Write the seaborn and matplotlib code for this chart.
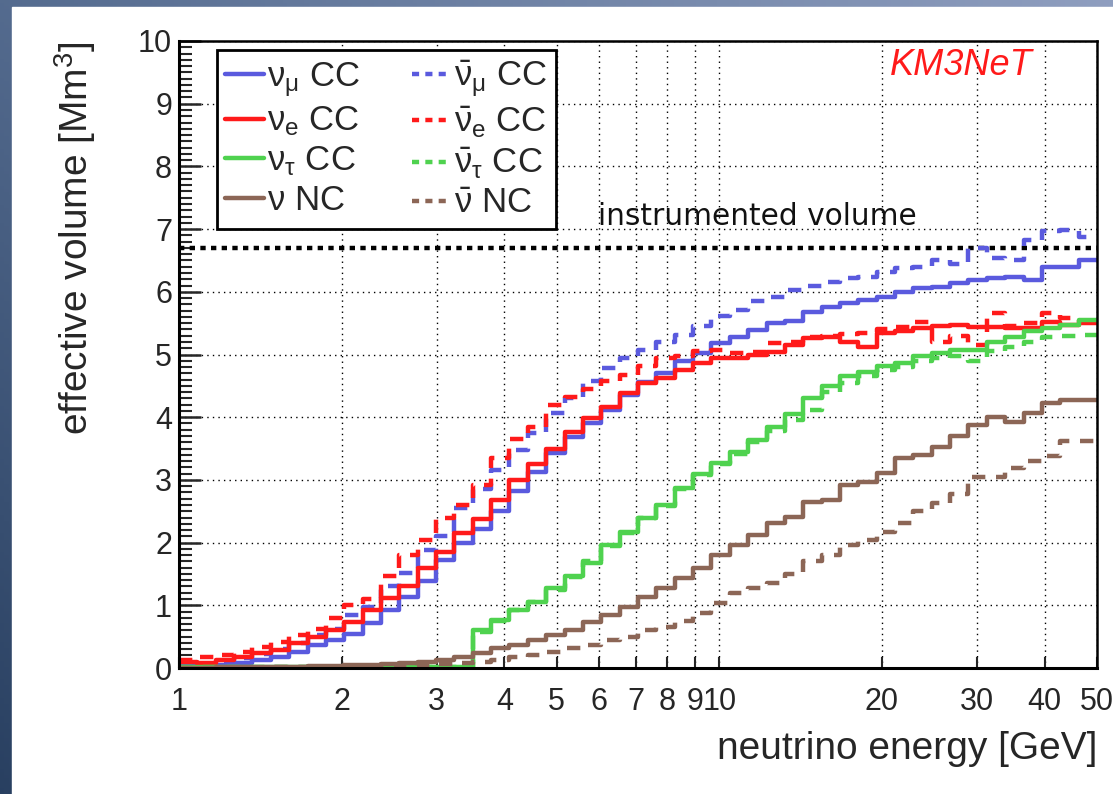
import numpy as np
import pandas as pd
import matplotlib
matplotlib.use("Agg")
import matplotlib.pyplot as plt
import seaborn as sns
from matplotlib.patches import Rectangle
from matplotlib.lines import Line2D
from matplotlib.ticker import FixedLocator, FixedFormatter, MultipleLocator, NullFormatter

# ---------------- data ----------------
E_MIN, E_MAX, N_BINS = 1.0, 50.0, 50

numu_cc = [0.03, 0.03, 0.05, 0.08, 0.12, 0.18, 0.26, 0.36, 0.44, 0.55,
           0.72, 0.92, 1.14, 1.38, 1.72, 2.00, 2.22, 2.50, 2.82, 3.12,
           3.43, 3.68, 3.90, 4.12, 4.36, 4.56, 4.70, 4.90, 5.02, 5.18,
           5.28, 5.39, 5.50, 5.54, 5.68, 5.76, 5.82, 5.87, 5.92, 6.00,
           6.06, 6.08, 6.14, 6.19, 6.22, 6.24, 6.19, 6.40, 6.40, 6.50]
anumu_cc = [0.08, 0.06, 0.10, 0.16, 0.22, 0.30, 0.40, 0.52, 0.62, 0.85,
            0.98, 1.30, 1.52, 1.88, 2.10, 2.55, 2.85, 3.16, 3.48, 3.75,
            4.07, 4.30, 4.57, 4.78, 4.94, 5.07, 5.20, 5.31, 5.45, 5.62,
            5.71, 5.85, 5.92, 6.03, 6.10, 6.16, 6.22, 6.24, 6.32, 6.38,
            6.40, 6.50, 6.45, 6.70, 6.54, 6.50, 6.83, 6.97, 6.98, 6.87]
nue_cc = [0.10, 0.08, 0.12, 0.18, 0.24, 0.29, 0.40, 0.50, 0.60, 0.74,
          0.93, 1.11, 1.30, 1.59, 1.85, 2.15, 2.37, 2.68, 3.00, 3.26,
          3.50, 3.77, 3.98, 4.17, 4.38, 4.54, 4.62, 4.75, 4.86, 4.94,
          4.94, 4.99, 5.04, 5.15, 5.26, 5.28, 5.20, 5.12, 5.34, 5.37,
          5.42, 5.45, 5.47, 5.44, 5.44, 5.42, 5.42, 5.52, 5.47, 5.50]
anue_cc = [0.13, 0.18, 0.20, 0.26, 0.33, 0.42, 0.52, 0.62, 0.80, 1.00,
           1.10, 1.46, 1.80, 2.04, 2.39, 2.60, 2.92, 3.35, 3.65, 3.85,
           4.20, 4.33, 4.45, 4.57, 4.67, 4.81, 4.94, 4.97, 5.05, 5.07,
           5.02, 5.04, 5.18, 5.20, 5.28, 5.30, 5.32, 5.34, 5.40, 5.44,
           5.52, 5.20, 5.30, 5.15, 5.66, 5.45, 5.50, 5.66, 5.58, 5.52]
nutau_cc = [0.01, 0.01, 0.01, 0.01, 0.01, 0.01, 0.01, 0.01, 0.01, 0.01,
            0.01, 0.01, 0.01, 0.01, 0.01, 0.02, 0.60, 0.76, 0.92, 1.06,
            1.27, 1.46, 1.67, 1.96, 2.17, 2.39, 2.60, 2.87, 3.10, 3.27,
            3.45, 3.64, 3.85, 4.05, 4.30, 4.50, 4.65, 4.72, 4.81, 4.86,
            4.97, 5.02, 5.07, 5.07, 5.20, 5.28, 5.37, 5.42, 5.47, 5.55]
anutau_cc = [0.01, 0.01, 0.01, 0.01, 0.01, 0.01, 0.01, 0.01, 0.01, 0.01,
             0.01, 0.01, 0.01, 0.01, 0.01, 0.02, 0.58, 0.75, 0.92, 1.05,
             1.25, 1.45, 1.70, 1.95, 2.15, 2.40, 2.58, 2.85, 3.08, 3.25,
             3.42, 3.60, 3.78, 3.95, 4.11, 4.40, 4.55, 4.65, 4.75, 4.80,
             4.90, 4.95, 4.98, 4.89, 5.05, 5.12, 5.20, 5.28, 5.30, 5.31]
nu_nc = [0.00, 0.00, 0.01, 0.01, 0.01, 0.02, 0.02, 0.03, 0.03, 0.04,
         0.05, 0.06, 0.08, 0.10, 0.13, 0.18, 0.24, 0.32, 0.37, 0.45,
         0.53, 0.61, 0.74, 0.85, 0.98, 1.14, 1.27, 1.43, 1.59, 1.80,
         1.96, 2.12, 2.31, 2.41, 2.65, 2.68, 2.92, 2.97, 3.11, 3.35,
         3.40, 3.53, 3.70, 3.88, 4.00, 3.93, 4.06, 4.22, 4.28, 4.28]
anu_nc = [0.00, 0.00, 0.00, 0.00, 0.00, 0.01, 0.01, 0.01, 0.01, 0.01,
          0.01, 0.02, 0.03, 0.04, 0.06, 0.08, 0.10, 0.13, 0.18, 0.20,
          0.26, 0.32, 0.37, 0.45, 0.50, 0.61, 0.66, 0.75, 0.88, 1.03,
          1.19, 1.27, 1.35, 1.50, 1.70, 1.80, 1.96, 2.04, 2.17, 2.31,
          2.50, 2.63, 2.78, 3.05, 3.05, 3.19, 3.30, 3.38, 3.62, 3.62]

channels = ["numu", "nue", "nutau", "nc"]
series = {
    ("numu", "nu"): numu_cc, ("numu", "anti"): anumu_cc,
    ("nue", "nu"): nue_cc, ("nue", "anti"): anue_cc,
    ("nutau", "nu"): nutau_cc, ("nutau", "anti"): anutau_cc,
    ("nc", "nu"): nu_nc, ("nc", "anti"): anu_nc,
}
legend_labels = {
    ("numu", "nu"): r"$\mathrm{\nu_{\mu}}$ CC",
    ("nue", "nu"): r"$\mathrm{\nu_{e}}$ CC",
    ("nutau", "nu"): r"$\mathrm{\nu_{\tau}}$ CC",
    ("nc", "nu"): r"$\mathrm{\nu}$ NC",
    ("numu", "anti"): r"$\mathrm{\bar{\nu}_{\mu}}$ CC",
    ("nue", "anti"): r"$\mathrm{\bar{\nu}_{e}}$ CC",
    ("nutau", "anti"): r"$\mathrm{\bar{\nu}_{\tau}}$ CC",
    ("nc", "anti"): r"$\mathrm{\bar{\nu}}$ NC",
}
x_ticks = [1, 2, 3, 4, 5, 6, 7, 8, 9, 10, 20, 30, 40, 50]
x_ticklabels = ["1", "2", "3", "4", "5", "6", "7", "8", "9", "10", "20", "30", "40", "50"]
instrumented_volume = 6.7

# ---------------- style ----------------
sns.set_style("ticks")
plt.rcParams["font.family"] = ["Liberation Sans", "DejaVu Sans"]
plt.rcParams["mathtext.fontset"] = "custom"
plt.rcParams["mathtext.rm"] = "Liberation Sans"
plt.rcParams["mathtext.it"] = "Liberation Sans:italic"
plt.rcParams["mathtext.bf"] = "Liberation Sans:bold"

palette = {"numu": "#5a5ade", "nue": "#ff1a1a", "nutau": "#4fd24f", "nc": "#8c6656"}
dashes = {"nu": "", "anti": (3.0, 2.4)}

edges = np.logspace(np.log10(E_MIN), np.log10(E_MAX), N_BINS + 1)
rows = []
for (ch, kind), vals in series.items():
    yv = list(vals) + [vals[-1]]
    for e, v in zip(edges, yv):
        rows.append({"energy": e, "volume": v, "channel": ch, "kind": kind})
df = pd.DataFrame(rows)

W, H = 1113, 794
fig = plt.figure(figsize=(W / 100, H / 100), dpi=100)
fig.patch.set_facecolor("white")

# slide background (blue gradient frame at top and left)
bg = fig.add_axes([0, 0, 1, 1], zorder=-10)
gx = np.linspace(0, 1, 256)[None, :]
gy = np.linspace(0, 1, 256)[:, None]
c_dark = np.array([0.16, 0.25, 0.38])
c_mid = np.array([0.33, 0.42, 0.56])
c_light = np.array([0.56, 0.62, 0.75])
img = c_mid[None, None, :] + (c_light - c_mid)[None, None, :] * gx[..., None] \
      + (c_dark - c_mid)[None, None, :] * gy[..., None] * (1 - gx[..., None])
bg.imshow(np.clip(img, 0, 1), extent=[0, 1, 0, 1], aspect="auto", origin="upper")
bg.add_patch(Rectangle((12 / W, 0), 1, (H - 7) / H, color="white", transform=bg.transAxes))
bg.set_xlim(0, 1); bg.set_ylim(0, 1)
bg.axis("off")

ax = fig.add_axes([179 / W, (H - 668) / H, 918 / W, 627 / H])
ax.set_facecolor("white")

sns.lineplot(data=df, x="energy", y="volume", hue="channel", style="kind",
             palette=palette, dashes=dashes, hue_order=channels, style_order=["nu", "anti"],
             estimator=None, sort=False, drawstyle="steps-post", linewidth=3.2,
             legend=False, ax=ax)

ax.axhline(instrumented_volume, color="black", linewidth=3.2, linestyle=(0, (1.2, 1.2)), zorder=1)

ax.set_xscale("log")
ax.set_xlim(E_MIN, E_MAX)
ax.set_ylim(0, 10)
ax.xaxis.set_major_locator(FixedLocator(x_ticks))
ax.xaxis.set_major_formatter(FixedFormatter(x_ticklabels))
ax.xaxis.set_minor_locator(FixedLocator([]))
ax.xaxis.set_minor_formatter(NullFormatter())
ax.yaxis.set_major_locator(MultipleLocator(1))
ax.yaxis.set_minor_locator(MultipleLocator(0.1))

ax.tick_params(axis="x", which="major", direction="in", length=8, width=1.5, pad=14, labelsize=22)
ax.tick_params(axis="y", which="major", direction="in", length=16, width=1.8, pad=5, labelsize=22)
ax.tick_params(axis="y", which="minor", direction="in", length=9, width=1.5)
ax.grid(which="major", axis="both", color="black", linestyle=(0, (1, 3)), linewidth=1.0)
ax.set_axisbelow(True)

for s in ["left", "bottom"]:
    ax.spines[s].set_linewidth(2.2)
for s in ["top", "right"]:
    ax.spines[s].set_linewidth(1.8)
for s in ax.spines.values():
    s.set_color("black")

ax.set_xlabel("neutrino energy [GeV]", fontsize=28, loc="right")
ax.xaxis.set_label_coords(1.0, -0.10)
ax.set_ylabel(r"effective volume [Mm$^{3}$]", fontsize=28, loc="top")
ax.yaxis.set_label_coords(-0.088, 1.0)

ax.text(5.97, 7.07, "instrumented volume", fontsize=21.3, family=["DejaVu Sans"],
        fontweight="normal", color="#111111", va="baseline", ha="left")
ax.text(38.0, 9.46, "KM3NeT", fontsize=26, style="italic", color="#ff1a1a",
        va="baseline", ha="right")

handles, labels = [], []
for kind in ["nu", "anti"]:
    for ch in channels:
        handles.append(Line2D([], [], color=palette[ch], linewidth=3.2,
                              linestyle="-" if kind == "nu" else (0, (1.6, 1.4))))
        labels.append(legend_labels[(ch, kind)])
leg = ax.legend(handles, labels, ncol=2, loc="upper left", bbox_to_anchor=(0.041, 0.986),
                borderaxespad=0, fontsize=25, frameon=True, fancybox=False, framealpha=1,
                edgecolor="black", handlelength=1.1, handletextpad=0.1, columnspacing=1.5,
                labelspacing=0.17, borderpad=0.25)
leg.get_frame().set_linewidth(2.0)

fig.savefig("out.png", dpi=100)
